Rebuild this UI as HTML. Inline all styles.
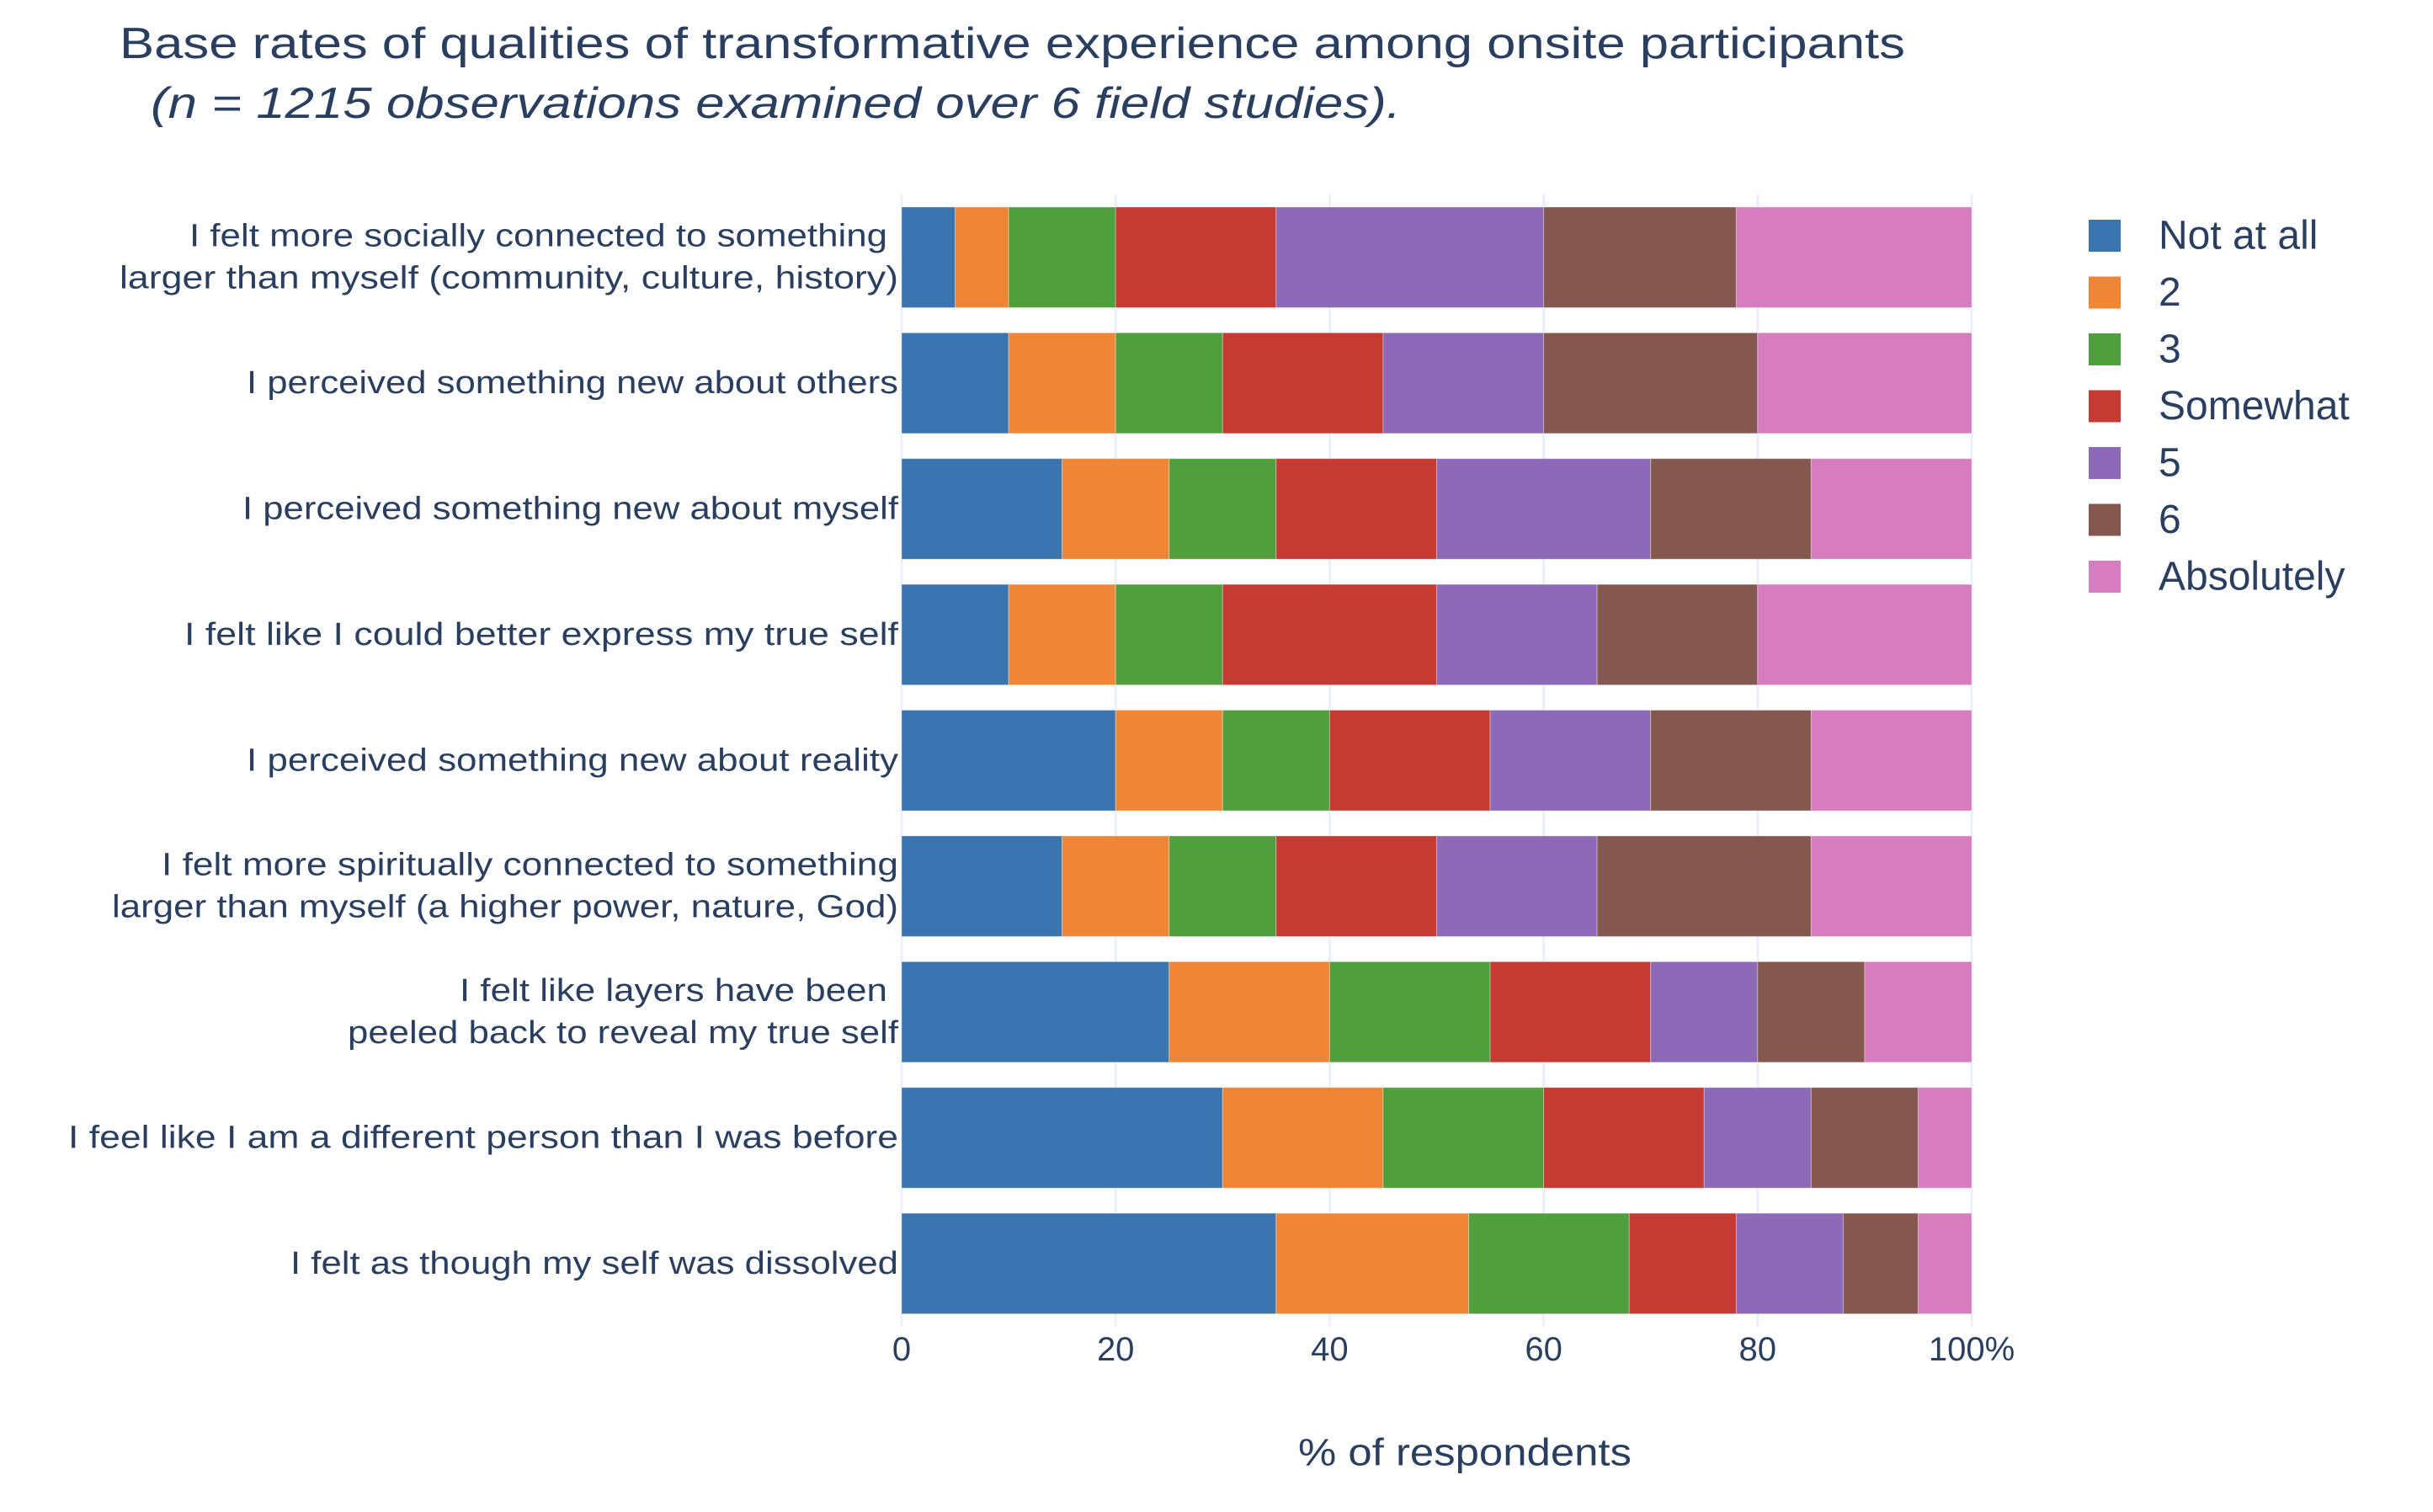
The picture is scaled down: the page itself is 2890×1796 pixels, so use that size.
<!DOCTYPE html>
<html><head><meta charset="utf-8"><style>
html,body{margin:0;padding:0;background:#fff;}
svg{display:block;font-family:"Liberation Sans",sans-serif;}
</style></head><body>
<svg id="chart" width="2890" height="1796" viewBox="0 0 2890 1796" xmlns="http://www.w3.org/2000/svg">
<text x="142" y="52" dominant-baseline="central" font-size="52" fill="#2a3f5f" textLength="2121" lengthAdjust="spacingAndGlyphs">Base rates of qualities of transformative experience among onsite participants</text>
<text x="179" y="123" dominant-baseline="central" font-size="52" font-style="italic" fill="#2a3f5f" textLength="1485" lengthAdjust="spacingAndGlyphs">(n = 1215 observations examined over 6 field studies).</text>
<g id="grid"></g>
<g id="bars"></g>
<g id="ylabels"></g>
<g id="xticks"></g>
<text x="1740" y="1725" text-anchor="middle" dominant-baseline="central" font-size="45" fill="#2a3f5f" textLength="396" lengthAdjust="spacingAndGlyphs">% of respondents</text>
<g id="legend"></g>
</svg>
<script>
const categories = [
  ["I felt more socially connected to something", "larger than myself (community, culture, history)"],
  ["I perceived something new about others"],
  ["I perceived something new about myself"],
  ["I felt like I could better express my true self"],
  ["I perceived something new about reality"],
  ["I felt more spiritually connected to something", "larger than myself (a higher power, nature, God)"],
  ["I felt like layers have been", "peeled back to reveal my true self"],
  ["I feel like I am a different person than I was before"],
  ["I felt as though my self was dissolved"]
];
const seriesNames = ["Not at all", "2", "3", "Somewhat", "5", "6", "Absolutely"];
const notAtAll   = [5, 10, 15, 10, 20, 15, 25, 30, 35];
const two        = [5, 10, 10, 10, 10, 10, 15, 15, 18];
const three      = [10, 10, 10, 10, 10, 10, 15, 15, 15];
const somewhat   = [15, 15, 15, 20, 15, 15, 15, 15, 10];
const five       = [25, 15, 20, 15, 15, 15, 10, 10, 10];
const six        = [18, 20, 15, 15, 15, 20, 10, 10, 7];
const absolutely = [22, 20, 15, 20, 15, 15, 10, 5, 5];
const xTicks = [0, 20, 40, 60, 80, 100];
const xTickLabels = ["0", "20", "40", "60", "80", "100%"];
// label widths (layout) per line
const labelWidths = [[829, 925], [774], [779], [848], [774], [875, 934], [508, 654], [986], [722]];
const labelRight = [[1054, 1067], [1067], [1067], [1067], [1067], [1067, 1067], [1054, 1067], [1067], [1067]];

const series = [notAtAll, two, three, somewhat, five, six, absolutely];
const colors = ["#3b75af", "#ef8636", "#519e3e", "#c53a32", "#8d6ab8", "#84584e", "#d57dbf"];
const NS = "http://www.w3.org/2000/svg";
const X0 = 1071, X1 = 2342, Y0 = 231, BAND = 149.4;
const xs = v => X0 + (X1 - X0) * v / 100;
const yc = i => Y0 + BAND * (i + 0.5);
const BH = BAND * 0.8;
function mk(tag, attrs, parent) {
  const e = document.createElementNS(NS, tag);
  for (const k in attrs) e.setAttribute(k, attrs[k]);
  parent.appendChild(e);
  return e;
}
const grid = document.getElementById('grid');
xTicks.forEach((t, i) => {
  const l = mk('line', {x1: xs(t), x2: xs(t), y1: Y0, y2: Y0 + BAND * categories.length, stroke: '#ebf0f8', 'stroke-width': 3}, grid);
  
  
});
const bars = document.getElementById('bars');
categories.forEach((c, i) => {
  let cum = 0;
  series.forEach((s, j) => {
    const v = s[i];
    const r = mk('rect', {x: xs(cum), y: yc(i) - BH / 2, width: xs(cum + v) - xs(cum), height: BH, fill: colors[j], stroke: 'rgba(255,255,255,0.35)', 'stroke-width': 1}, bars);
    
    
    cum += v;
  });
});
const yl = document.getElementById('ylabels');
categories.forEach((lines, i) => {
  lines.forEach((ln, k) => {
    const off = lines.length === 2 ? (k === 0 ? -25 : 25) : 0;
    const t = mk('text', {x: labelRight[i][k], y: yc(i) + off, 'text-anchor': 'end', 'dominant-baseline': 'central', 'font-size': 38, fill: '#2a3f5f', textLength: labelWidths[i][k], lengthAdjust: 'spacingAndGlyphs'}, yl);
    t.textContent = ln;
    
    
  });
});
const xt = document.getElementById('xticks');
xTicks.forEach((t, i) => {
  const e = mk('text', {x: xs(t), y: 1603, 'text-anchor': 'middle', 'dominant-baseline': 'central', 'font-size': 40, fill: '#2a3f5f'}, xt);
  e.textContent = xTickLabels[i];
  
  
});
const lg = document.getElementById('legend');
seriesNames.forEach((n, j) => {
  const cy = 280 + 67.5 * j;
  const r = mk('rect', {x: 2481, y: cy - 19, width: 38, height: 38, fill: colors[j]}, lg);
  
  
  const t = mk('text', {x: 2564, y: cy, 'dominant-baseline': 'central', 'font-size': 48, fill: '#2a3f5f'}, lg);
  t.textContent = n;
  
  
});
</script>
</body></html>
